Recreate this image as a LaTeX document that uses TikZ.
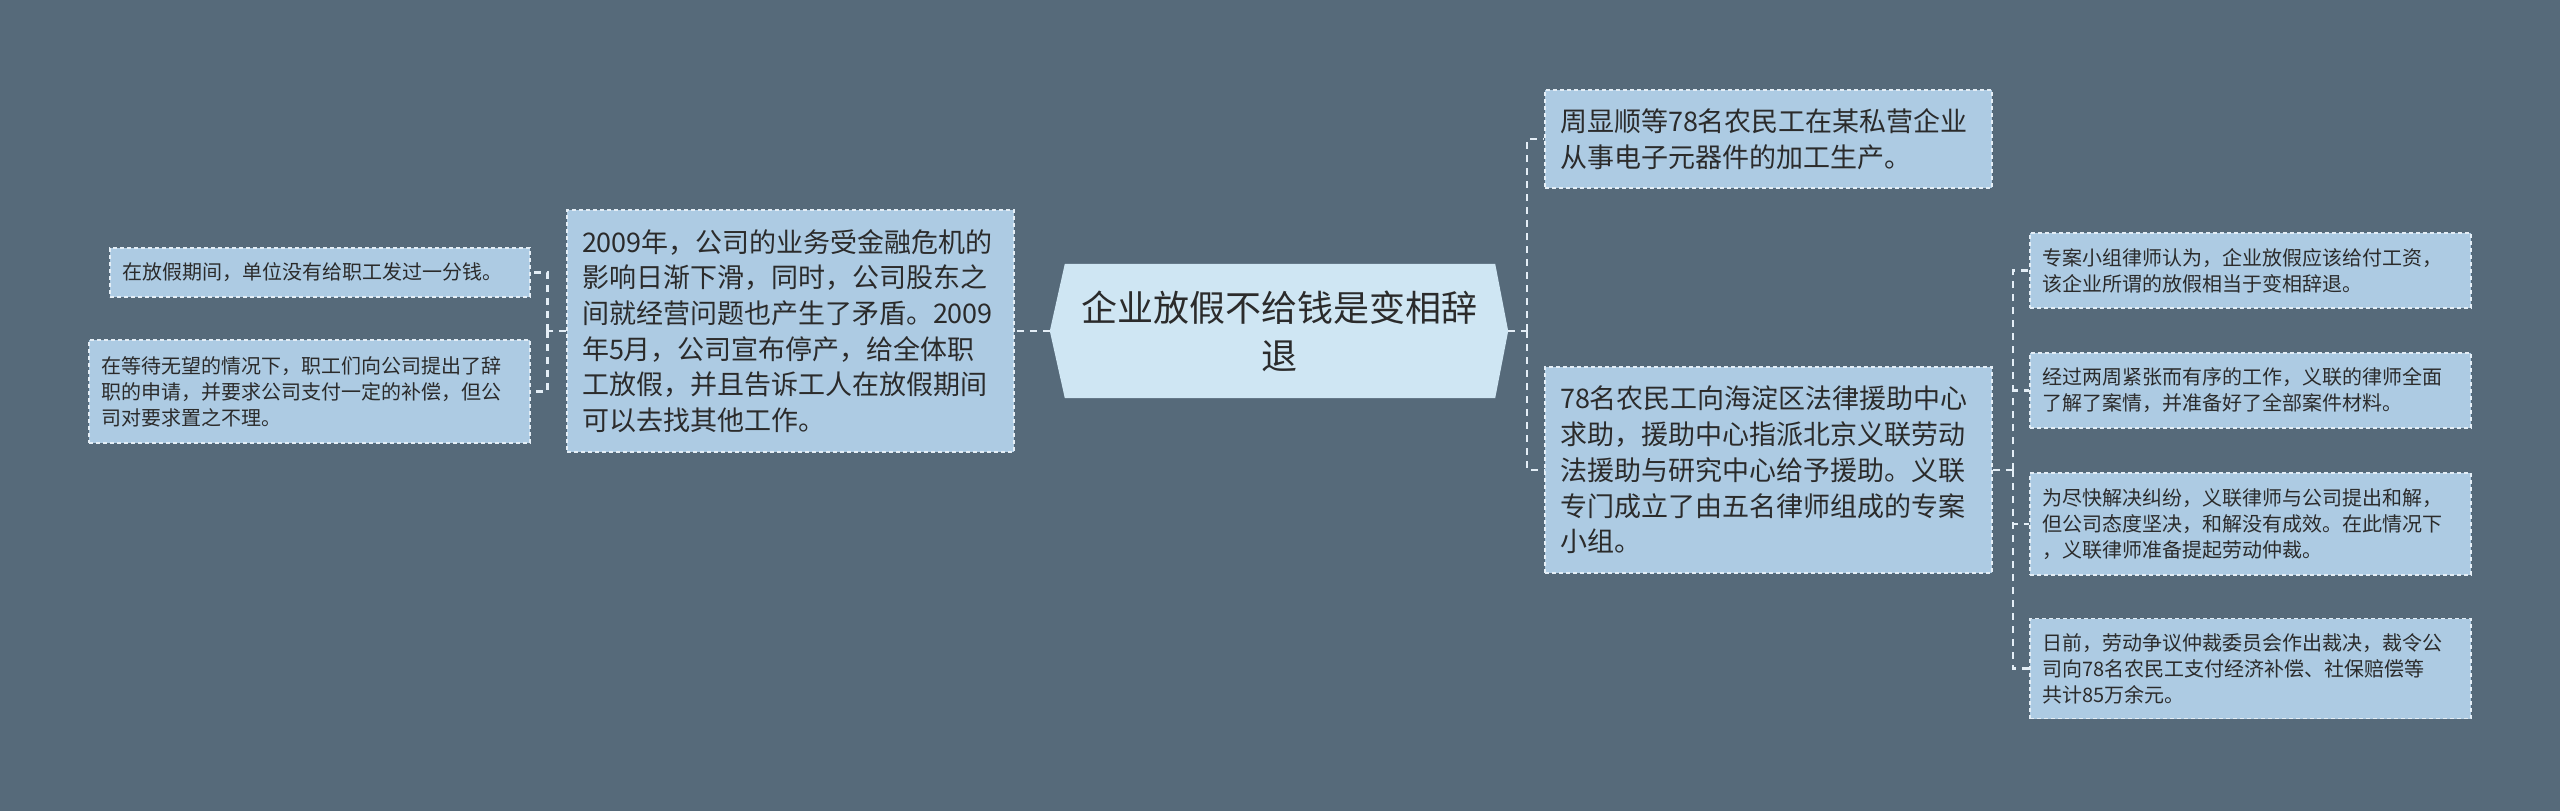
\documentclass[tikz,border=0pt]{standalone}
\usepackage{fontspec}
\setmainfont{Noto Sans CJK SC}
\usetikzlibrary{backgrounds}
\definecolor{bgslate}{HTML}{566A7A}
\definecolor{boxblue}{HTML}{ADCBE3}
\definecolor{rootblue}{HTML}{CFE6F3}
\definecolor{edgeline}{HTML}{E4EEF6}
\definecolor{inktext}{HTML}{2B2B2B}
\begin{document}
\begin{tikzpicture}[x=1pt, y=-1pt,
    topic/.style={text=inktext, inner sep=0pt, align=center,
      minimum width=458pt, minimum height=134pt, font=\fontsize{36}{48}\selectfont},
    bigbox/.style={fill=boxblue, draw=edgeline, dash pattern=on 4pt off 3pt,
      line width=1.5pt, text=inktext, align=left, inner xsep=15pt, inner ysep=0pt,
      text width=417pt, font=\fontsize{27}{35.7}\selectfont},
    smallbox/.style={fill=boxblue, draw=edgeline, dash pattern=on 4pt off 3pt,
      line width=1.5pt, text=inktext, align=left, inner xsep=12pt, inner ysep=0pt,
      text width=#1, font=\fontsize{20}{26}\selectfont},
    smallbox/.default=417pt,
    link/.style={draw=edgeline, line width=2.5pt, dash pattern=on 7pt off 6pt}]

    % Main topic
    \node[topic] (root) at (1279, 331) {企业放假不给钱是变相辞\\退};

    % Left branch
    \node[bigbox, minimum height=242pt] (cause) at (790.5, 331) {2009年，公司的业务受金融危机的\\影响日渐下滑，同时，公司股东之\\间就经营问题也产生了矛盾。2009\\年5月，公司宣布停产，给全体职\\工放假，并且告诉工人在放假期间\\可以去找其他工作。};
    \node[smallbox=396pt, minimum height=49pt] (nopay) at (320, 272.5) {在放假期间，单位没有给职工发过一分钱。};
    \node[smallbox, minimum height=103pt] (resign) at (309.5, 391.5) {在等待无望的情况下，职工们向公司提出了辞\\职的申请，并要求公司支付一定的补偿，但公\\司对要求置之不理。};

    % Right branch
    \node[bigbox, minimum height=98pt] (workers) at (1768.5, 139) {周显顺等78名农民工在某私营企业\\从事电子元器件的加工生产。};
    \node[bigbox, minimum height=206pt] (aid) at (1768.5, 470) {78名农民工向海淀区法律援助中心\\求助，援助中心指派北京义联劳动\\法援助与研究中心给予援助。义联\\专门成立了由五名律师组成的专案\\小组。};

    % Lawyer steps
    \node[smallbox, minimum height=75pt] (view) at (2250.5, 270.5) {专案小组律师认为，企业放假应该给付工资，\\该企业所谓的放假相当于变相辞退。};
    \node[smallbox, minimum height=75pt] (prep) at (2250.5, 390.5) {经过两周紧张而有序的工作，义联的律师全面\\了解了案情，并准备好了全部案件材料。};
    \node[smallbox, minimum height=102pt] (arbit) at (2250.5, 524) {为尽快解决纠纷，义联律师与公司提出和解，\\但公司态度坚决，和解没有成效。在此情况下\\，义联律师准备提起劳动仲裁。};
    \node[smallbox, minimum height=100pt] (award) at (2250.5, 668.5) {日前，劳动争议仲裁委员会作出裁决，裁令公\\司向78名农民工支付经济补偿、社保赔偿等\\共计85万余元。};

    % Background and topic shape
    \begin{pgfonlayer}{background}
      \fill[bgslate] (0, 0) rectangle (2560, 811);
      \fill[rootblue] ([xshift=15pt]root.north west) -- ([xshift=-13pt]root.north east)
        -- (root.east) -- ([xshift=-13pt]root.south east)
        -- ([xshift=15pt]root.south west) -- (root.west) -- cycle;
    \end{pgfonlayer}

    % Connectors
    \draw[link] (root.west) -- (cause.east);
    \draw[link] (cause.west) -- ++(-19, 0) coordinate (lfork);
    \draw[link] (lfork) |- (nopay.east);
    \draw[link] (lfork) |- (resign.east);
    \draw[link] (root.east) -- ++(19, 0) coordinate (rfork);
    \draw[link] (rfork) |- (workers.west);
    \draw[link] (rfork) |- (aid.west);
    \draw[link] (aid.east) -- ++(20, 0) coordinate (sfork);
    \draw[link] (sfork) |- (view.west);
    \draw[link] (sfork) |- (prep.west);
    \draw[link] (sfork) |- (arbit.west);
    \draw[link] (sfork) |- (award.west);
  \end{tikzpicture}
\end{document}
